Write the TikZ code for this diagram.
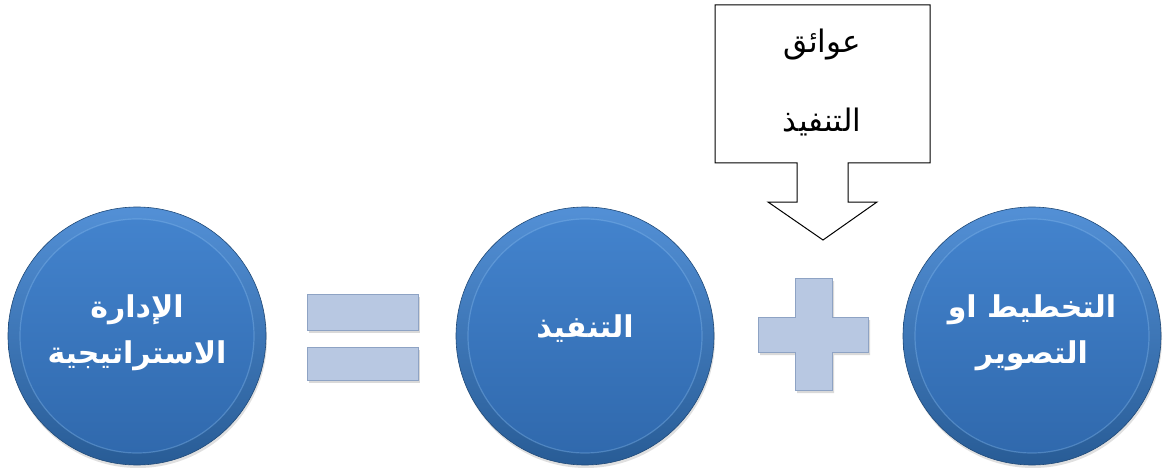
\documentclass[tikz,border=0pt]{standalone}
\usepackage{fontspec}
\newfontfamily\arabicfont[Script=Arabic]{DejaVu Sans}
\TeXXeTstate=1
\definecolor{rimlight}{HTML}{5390D6}
\definecolor{rimdark}{HTML}{285C96}
\definecolor{facelight}{HTML}{4383CD}
\definecolor{facedark}{HTML}{3069AD}
\definecolor{glint}{HTML}{8CC0F2}
\definecolor{barfill}{HTML}{B8C8E2}
\definecolor{baredge}{HTML}{8EA3C4}
\tikzset{
  button/.style={circle, minimum size=258pt, inner sep=0pt,
    top color=rimlight, bottom color=rimdark, draw=rimdark!80!black, line width=0.6pt},
  face/.style={circle, minimum size=234pt, inner sep=0pt,
    top color=facelight, bottom color=facedark, draw=glint, draw opacity=0.35, line width=1.2pt},
  label/.style={text=white, font=\arabicfont\bfseries\fontsize{30}{46}\selectfont, align=center},
  buttonshadow/.style={fill=black, opacity=0.12},
  bar/.style={fill=barfill, draw=baredge, line width=0.8pt},
  barshadow/.style={fill=black, opacity=0.15},
  note/.style={font=\arabicfont\fontsize{31}{34}\selectfont, text=black},
  callout/.style={draw=black, line width=1pt, fill=white}
}
\begin{document}
\begin{tikzpicture}[x=1pt,y=-1pt]
\useasboundingbox (0,0) rectangle (1165,468);
% soft shadows under the three buttons
\foreach \cx in {137, 585, 1032}{
  \fill[buttonshadow] (\cx+1,339) circle (129);
}
% the three round buttons: rim, then face
\node[button] (rimA) at (137,336) {};
\node[face] (faceA) at (137,336) {};
\node[button] (rimB) at (585,336) {};
\node[face] (faceB) at (585,336) {};
\node[button] (rimC) at (1032,336) {};
\node[face] (faceC) at (1032,336) {};
\node[label] (strategy) at (137,333)
  {\beginR الإدارة\endR\\\beginR الاستراتيجية\endR};
\node[label] (execution) at (585,329)
  {\beginR التنفيذ\endR};
\node[label] (planning) at (1032,333)
  {\beginR التخطيط او\endR\\\beginR التصوير\endR};
% equals sign
\fill[barshadow] (309,297) rectangle (420,333);
\fill[barshadow] (309,350) rectangle (420,383);
\draw[bar] (307,294) rectangle (418,330);
\draw[bar] (307,347) rectangle (418,380);
% plus sign
\fill[barshadow] (797,281) -- (834,281) -- (834,320) -- (870,320) -- (870,355) -- (834,355) -- (834,393) -- (797,393) -- (797,355) -- (760,355) -- (760,320) -- (797,320) -- cycle;
\draw[bar] (795,278) -- (832,278) -- (832,317) -- (868,317) -- (868,352) -- (832,352) -- (832,390) -- (795,390) -- (795,352) -- (758,352) -- (758,317) -- (795,317) -- cycle;
% callout box with a down arrow
\draw[callout] (715,5) -- (930,5) -- (930,163) -- (848,163) -- (848,202) -- (877,202)
  -- (823,240) -- (768,202) -- (797,202) -- (797,163) -- (715,163) -- cycle;
\node[note] (obstacles) at (822,45) {\beginR عوائق\endR};
\node[note] (execnote) at (822,122) {\beginR التنفيذ\endR};
\end{tikzpicture}
\end{document}
